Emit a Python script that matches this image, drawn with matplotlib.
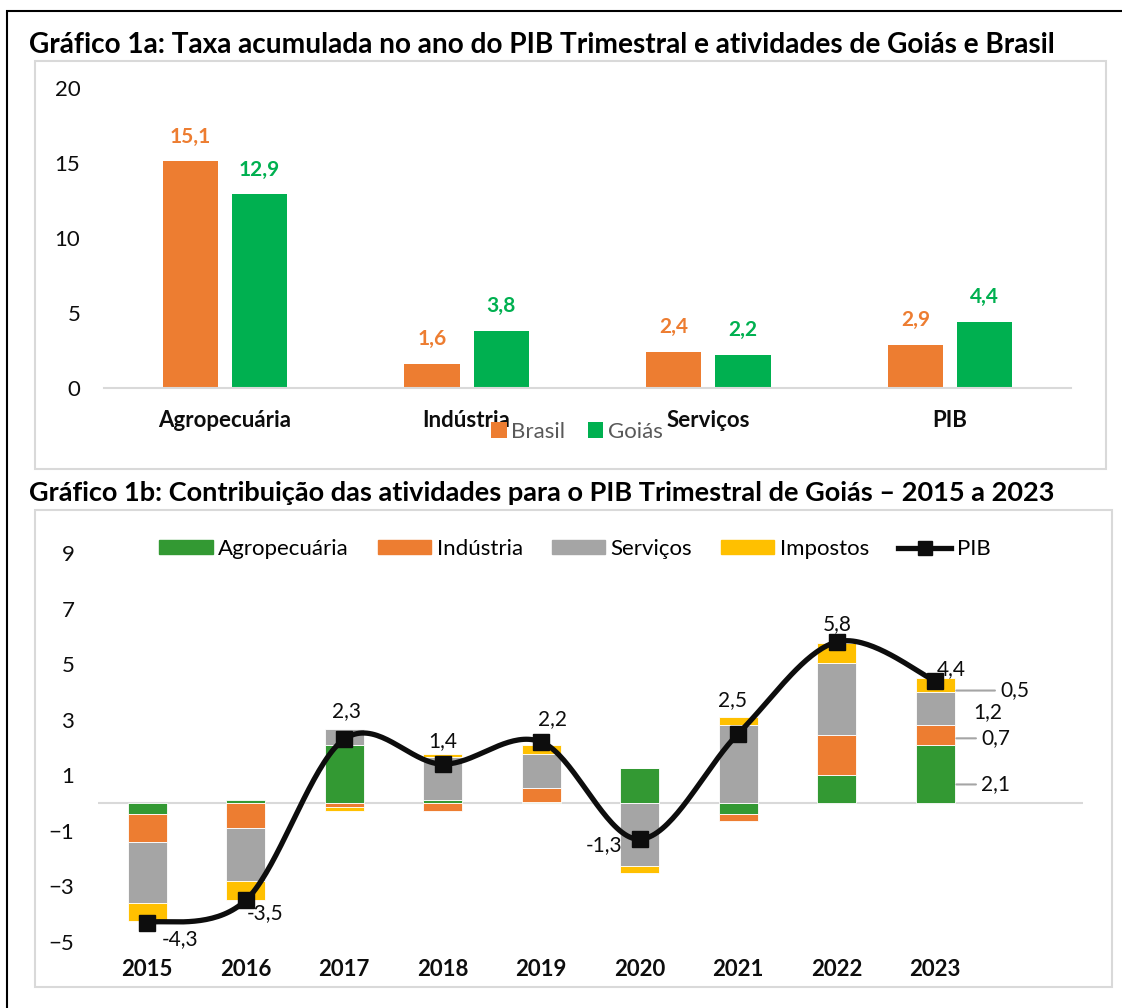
import matplotlib

matplotlib.use("Agg")
import matplotlib.pyplot as plt
import numpy as np
from matplotlib.lines import Line2D
from matplotlib.patches import Patch, Rectangle

plt.rcParams["font.family"] = ["Lato", "DejaVu Sans"]

# --- data: chart 1a
categorias = ["Agropecuária", "Indústria", "Serviços", "PIB"]
brasil = [15.1, 1.6, 2.4, 2.9]
goias = [12.9, 3.8, 2.2, 4.4]

# --- data: chart 1b (contributions, p.p.)
anos = ["2015", "2016", "2017", "2018", "2019", "2020", "2021", "2022", "2023"]
agro = [-0.4, 0.1, 2.1, 0.1, 0.05, 1.25, -0.4, 1.0, 2.1]
industria = [-1.0, -0.9, -0.15, -0.3, 0.5, 0.0, -0.25, 1.45, 0.7]
servicos = [-2.2, -1.9, 0.55, 1.55, 1.2, -2.25, 2.8, 2.6, 1.2]
impostos = [-0.65, -0.7, -0.15, 0.1, 0.35, -0.25, 0.3, 0.7, 0.5]
pib = [-4.3, -3.5, 2.3, 1.4, 2.2, -1.3, 2.5, 5.8, 4.4]

C_ORANGE = "#ED7D31"
C_GREEN_A = "#00B050"
C_GREEN = "#339933"
C_GRAY = "#A5A5A5"
C_YELLOW = "#FFC000"
C_AXIS = "#D9D9D9"
C_TXT = "#0D0D0D"

W, H = 1122, 1008
fig = plt.figure(figsize=(W / 100, H / 100), dpi=100)


def px_rect(x0, y0, x1, y1):
    # pixel box (top-left origin) -> figure fraction [left, bottom, width, height]
    return [x0 / W, 1 - y1 / H, (x1 - x0) / W, (y1 - y0) / H]


def frame(x0, y0, x1, y1, color, lw):
    l, b, w, h = px_rect(x0, y0, x1, y1)
    fig.add_artist(Rectangle((l, b), w, h, transform=fig.transFigure,
                             fill=False, edgecolor=color, linewidth=lw))


def br(v):
    return f"{v:.1f}".replace(".", ",")


frame(7, 11, 1140, 1040, "black", 1.5)
frame(35, 61, 1106, 469, C_AXIS, 1.5)
frame(35, 510, 1112, 987, C_AXIS, 1.5)

fig.text(29 / W, 1 - 45 / H,
         "Gráfico 1a: Taxa acumulada no ano do PIB Trimestral e atividades de Goiás e Brasil",
         fontsize=20.2, fontweight="bold", va="center", ha="left")
fig.text(29 / W, 1 - 493 / H,
         "Gráfico 1b: Contribuição das atividades para o PIB Trimestral de Goiás – 2015 a 2023",
         fontsize=19.5, fontweight="bold", va="center", ha="left")

# ---------------- Chart 1a ----------------
ax1 = fig.add_axes(px_rect(104, 88, 1071, 388))
x = np.arange(len(categorias))
bw = 0.228
gap = 0.058
off = (bw + gap) / 2
b1 = ax1.bar(x - off, brasil, bw, color=C_ORANGE, label="Brasil")
b2 = ax1.bar(x + off, goias, bw, color=C_GREEN_A, label="Goiás")
for rects, vals, col in ((b1, brasil, C_ORANGE), (b2, goias, C_GREEN_A)):
    for r, v in zip(rects, vals):
        ax1.annotate(br(v), (r.get_x() + r.get_width() / 2, v),
                     xytext=(0, 25), textcoords="offset pixels",
                     ha="center", va="center", fontsize=15,
                     fontweight="bold", color=col)
ax1.set_xlim(-0.5, len(categorias) - 0.5)
ax1.set_ylim(0, 20)
ax1.set_yticks([0, 5, 10, 15, 20])
ax1.set_xticks(x)
ax1.set_xticklabels(categorias, fontsize=16, fontweight="bold")
ax1.tick_params(axis="both", length=0, labelsize=16, labelcolor=C_TXT)
ax1.tick_params(axis="x", pad=16)
ax1.tick_params(axis="y", pad=17)
for s in ("top", "right", "left"):
    ax1.spines[s].set_visible(False)
ax1.spines["bottom"].set_color(C_AXIS)
ax1.spines["bottom"].set_linewidth(1.5)
ax1.patch.set_alpha(0)
leg1 = ax1.legend(loc="center", bbox_to_anchor=(577 / W, 1 - 432 / H),
                  bbox_transform=fig.transFigure, ncol=2, frameon=False,
                  fontsize=16, handlelength=0.7, handleheight=0.7,
                  handletextpad=0.2, columnspacing=1.0)
for t in leg1.get_texts():
    t.set_color("#595959")

# ---------------- Chart 1b ----------------
ax2 = fig.add_axes(px_rect(98, 553, 1083, 942))
xi = np.arange(len(anos))
bw2 = 0.4
pos_base = np.zeros(len(anos))
neg_base = np.zeros(len(anos))
series = [("Agropecuária", agro, C_GREEN), ("Indústria", industria, C_ORANGE),
          ("Serviços", servicos, C_GRAY), ("Impostos", impostos, C_YELLOW)]
for name, vals, col in series:
    vals = np.array(vals, dtype=float)
    bottoms = np.where(vals >= 0, pos_base, neg_base)
    ax2.bar(xi, vals, bw2, bottom=bottoms, color=col, edgecolor="white",
            linewidth=0.6, label=name, zorder=2)
    pos_base += np.where(vals >= 0, vals, 0)
    neg_base += np.where(vals < 0, vals, 0)

ax2.axhline(0, color=C_AXIS, linewidth=1.5, zorder=1)


# smoothed line (Excel-like bezier through the points)
def smooth(xs, ys, n=40):
    P = np.column_stack([xs, ys]).astype(float)
    P = np.vstack([P[0], P, P[-1]])
    out = []
    for i in range(1, len(P) - 2):
        p0, p1, p2, p3 = P[i - 1], P[i], P[i + 1], P[i + 2]
        c1 = p1 + (p2 - p0) / 6
        c2 = p2 - (p3 - p1) / 6
        t = np.linspace(0, 1, n)[:, None]
        seg = ((1 - t) ** 3) * p1 + 3 * ((1 - t) ** 2) * t * c1 \
            + 3 * (1 - t) * t ** 2 * c2 + t ** 3 * p2
        out.append(seg if i == 1 else seg[1:])
    out = np.vstack(out)
    return out[:, 0], out[:, 1]


sx, sy = smooth(xi, pib)
ax2.plot(sx, sy, color=C_TXT, linewidth=3.8, zorder=3, solid_capstyle="round")
ax2.plot(xi, pib, linestyle="none", marker="s", markersize=11,
         color=C_TXT, zorder=4)

pib_offsets = [(33, -17), (19, -13), (2, 28), (0, 23), (11, 23),
               (-36, -6), (-6, 34), (0, 18), (16, 12)]
for xv, v, (dx, dy) in zip(xi, pib, pib_offsets):
    ax2.annotate(br(v), (xv, v), xytext=(dx, dy),
                 textcoords="offset pixels", ha="center", va="center",
                 fontsize=15, color=C_TXT, zorder=5)

# labels of the 2023 components, with short leader lines
last = len(anos) - 1
seg_vals = [agro[last], industria[last], servicos[last], impostos[last]]
seg_lab_y = [0.67, 2.33, 3.26, 4.05]
seg_lab_dx = [41, 41, 33, 60]
seg_lead = [True, True, False, True]
bar_edge = last + bw2 / 2
for v, yl, dx, lead in zip(seg_vals, seg_lab_y, seg_lab_dx, seg_lead):
    ax2.annotate(br(v), (bar_edge, yl), xytext=(dx, 0),
                 textcoords="offset pixels", ha="center", va="center",
                 fontsize=15, color=C_TXT)
    if lead:
        ax2.annotate("", (bar_edge, yl), xytext=(dx - 20, 0),
                     textcoords="offset pixels",
                     arrowprops=dict(arrowstyle="-", color=C_GRAY, linewidth=1.5,
                                     shrinkA=0, shrinkB=1))

ax2.set_xlim(-0.5, len(anos) + 0.5)
ax2.set_ylim(-5, 9)
ax2.set_yticks(np.arange(-5, 10, 2))
ax2.set_xticks(xi)
ax2.set_xticklabels(anos, fontsize=16, fontweight="bold")
ax2.tick_params(axis="both", length=0, labelsize=16, labelcolor=C_TXT)
ax2.tick_params(axis="y", pad=17)
ax2.tick_params(axis="x", pad=12)
for s in ax2.spines.values():
    s.set_visible(False)
ax2.patch.set_alpha(0)

handles = [Patch(color=C_GREEN, label="Agropecuária"),
           Patch(color=C_ORANGE, label="Indústria"),
           Patch(color=C_GRAY, label="Serviços"),
           Patch(color=C_YELLOW, label="Impostos"),
           Line2D([], [], color=C_TXT, linewidth=3.8, marker="s",
                  markersize=10, label="PIB")]
ax2.legend(handles=handles, loc="center", bbox_to_anchor=(575 / W, 1 - 549 / H),
           bbox_transform=fig.transFigure, ncol=5, frameon=False, fontsize=16,
           handlelength=2.4, handleheight=0.55, handletextpad=0.25,
           columnspacing=1.3)

fig.savefig("out.png", dpi=100)
